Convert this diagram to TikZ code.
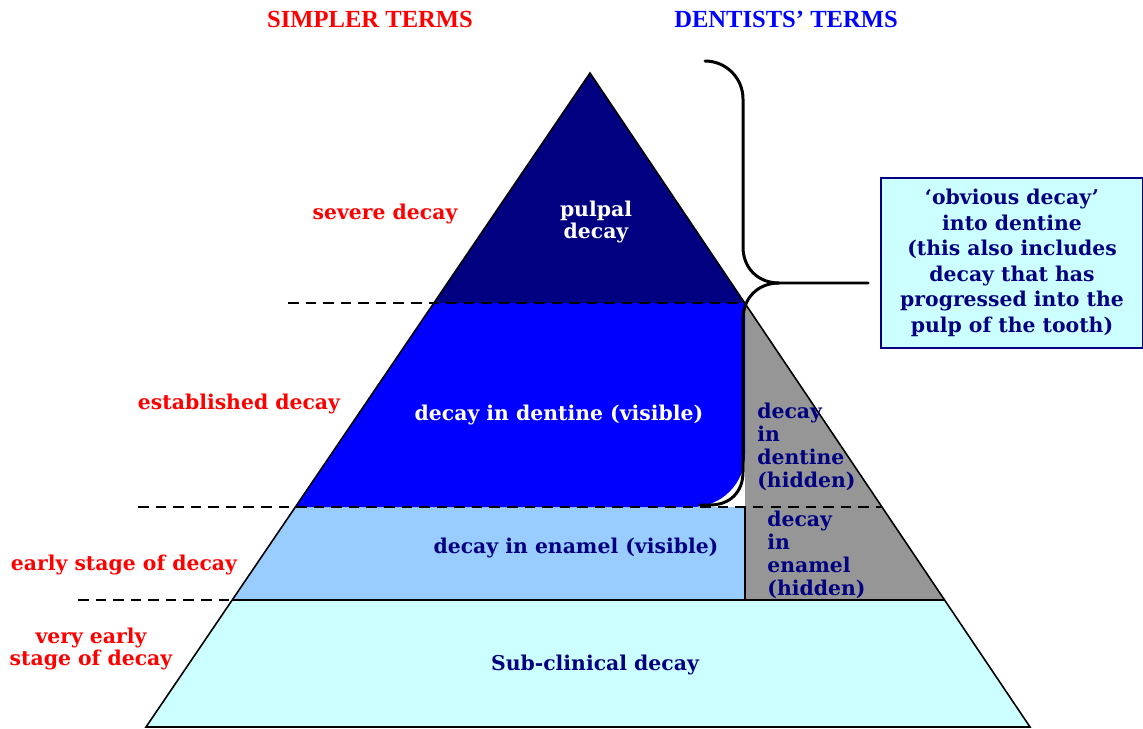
\documentclass[tikz,border=0pt]{standalone}
\usepackage{fontspec}
\setmainfont{DejaVu Serif}
\newfontfamily\headfont{Liberation Serif}
\definecolor{pulpnavy}{RGB}{0,0,128}
\definecolor{dentblue}{RGB}{0,0,255}
\definecolor{enamblue}{RGB}{153,204,255}
\definecolor{subcyan}{RGB}{204,255,255}
\definecolor{hidgrey}{RGB}{150,150,150}
\tikzset{
  lbl/.style={font=\bfseries\fontsize{11.6}{13}\selectfont,align=center},
  simple/.style={lbl,text=red},
  head/.style={font=\headfont\bfseries\fontsize{14}{15}\selectfont},
  guide/.style={dashed,dash pattern=on 6pt off 4pt,line width=0.9pt},
  brace/.style={line width=1.7pt,line cap=round}
}
\begin{document}
\begin{tikzpicture}[x=0.02cm,y=-0.02cm]
                \useasboundingbox (0,0) rectangle (1143,729);
                % pyramid corners
                \coordinate (apex) at (590,73);
                \coordinate (bl) at (146,727);
                \coordinate (br) at (1030,727);
                % layers
                \fill[subcyan] (232,600) -- (945,600) -- (br) -- (bl) -- cycle;
                \fill[enamblue] (295,507) -- (745,507) -- (745,600) -- (232,600) -- cycle;
                \fill[hidgrey] (745,303) -- (945,600) -- (745,600) -- cycle;
                \fill[dentblue] (434,303) -- (745,303) {[rounded corners=30] -- (745,507) -- (520,507)} -- (295,507) -- cycle;
                \fill[pulpnavy] (apex) -- (745,303) -- (434,303) -- cycle;
                \draw[line width=0.9pt] (bl) -- (apex) -- (br) -- cycle;
                \draw[line width=0.9pt] (232,600) -- (945,600);
                \draw[line width=0.7pt] (745,507) -- (745,600);
                % guide lines
                \draw[guide] (288,303) -- (745,303);
                \draw[guide] (138,507) -- (882,507);
                \draw[guide] (78,600) -- (232,600);
                % brace
                \coordinate (btop) at (705,61);
                \coordinate (btip) at (868,283);
                \coordinate (bend) at (700,505);
                \draw[brace] (btop) .. controls (726,61) and (743,78) .. (743,99) -- (743,247)
                    .. controls (743,268) and (758,283) .. (779,283) -- (btip);
                \draw[brace] (779,283) .. controls (758,283) and (743,298) .. (743,319) -- (743,472)
                    .. controls (743,492) and (730,505) .. (710,505) -- (bend);
                % headings
                \node[head,text=red] (simpler) at (370,19) {SIMPLER TERMS};
                \node[head,text=dentblue] (dentists) at (786,19) {DENTISTS’ TERMS};
                % simpler terms
                \node[simple] (severe) at (385,214) {severe decay};
                \node[simple] (established) at (239,404) {established decay};
                \node[simple] (early) at (124,565) {early stage of decay};
                \node[simple] (veryearly) at (91,649) {very early\\stage of decay};
                % dentists' terms
                \node[lbl,text=white] (pulpal) at (596,222) {pulpal\\decay};
                \node[lbl,text=white] (dentvis) at (559,415) {decay in dentine (visible)};
                \node[lbl,text=pulpnavy] (enamvis) at (576,548) {decay in enamel (visible)};
                \node[lbl,text=pulpnavy] (subclin) at (595,665) {Sub-clinical decay};
                \node[lbl,text=pulpnavy,align=left,anchor=north west,inner sep=0pt] (denthid) at (757,403) {decay\\in\\dentine\\(hidden)};
                \node[lbl,text=pulpnavy,align=left,anchor=north west,inner sep=0pt] (enamhid) at (767,511) {decay\\in\\enamel\\(hidden)};
                % callout
                \node[draw=pulpnavy,line width=1.2pt,fill=subcyan,minimum width=5.24cm,minimum height=3.4cm,
                      lbl,font=\bfseries\fontsize{11.6}{14.5}\selectfont,text=pulpnavy] (obvious) at (1012,263)
                      {‘obvious decay’\\into dentine\\(this also includes\\decay that has\\progressed into the\\pulp of the tooth)};
            \end{tikzpicture}
\end{document}
